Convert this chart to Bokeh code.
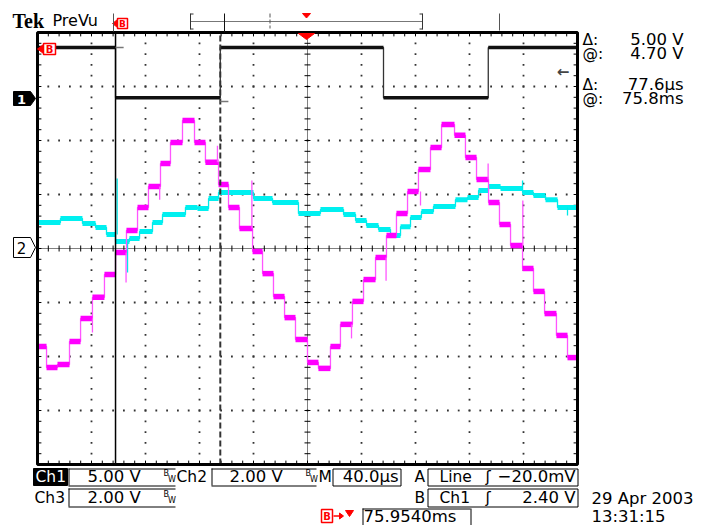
import numpy as np
from bokeh.plotting import figure
from bokeh.models import Range1d, Label
from bokeh.embed import file_html
from bokeh.resources import INLINE

TIME_PER_DIV_US = 40.0
CH1_V_PER_DIV = 5.0
CH2_V_PER_DIV = 2.0
CH3_V_PER_DIV = 2.0
CH1_OFFSET_DIV = 2.78
CH2_OFFSET_DIV = 0.0
CH3_OFFSET_DIV = 0.0

# Ch1: square wave (black)
ch1_edges_us = [-200.0, -142.2, -64.6, 56.3, 133.9, 200.0]
ch1_levels_v = [4.70, 0.05, 4.70, 0.05, 4.70]

# Ch2: slowly varying (cyan)
ch2_edges_us = [-200.0, -183.0, -166.7, -157.0, -148.9, -142.2, -131.9, -124.4, -114.8,
                -107.4, -90.4, -81.5, -73.3, -65.9, -40.0, -25.9, -6.7, 9.6, 26.7, 35.6,
                43.7, 52.6, 61.5, 68.9, 76.3, 84.4, 93.3, 109.6, 118.5, 126.7, 134.1,
                143.0, 159.3, 167.4, 176.3, 185.2, 200.0]
ch2_levels_v = [0.96, 1.11, 0.93, 0.78, 0.52, 0.26, 0.37, 0.63, 0.96, 1.26, 1.52, 1.48,
                1.85, 2.07, 1.85, 1.70, 1.30, 1.44, 1.26, 1.04, 0.85, 0.70, 0.48, 0.81,
                1.15, 1.37, 1.56, 1.81, 1.89, 2.15, 2.30, 2.22, 2.07, 1.96, 1.81, 1.52]
ch2_spike_us = [-200.0, -141.0, -133.3, 159.3, 192.6]
ch2_spike_v = [1.48, 2.59, -0.89, 2.52, 1.22]

# Ch3: staircase sine (magenta)
ch3_edges_us = [-200.0, -193.3, -185.2, -176.3, -168.1, -159.3, -150.4, -142.2, -134.1,
                -125.9, -117.8, -108.9, -101.5, -92.6, -83.7, -75.6, -65.9, -58.5, -50.4,
                -40.7, -33.3, -25.2, -17.0, -8.9, 0.0, 8.1, 17.0, 24.4, 33.3, 41.5, 50.4,
                58.5, 65.9, 74.1, 82.2, 91.1, 99.3, 108.9, 117.0, 125.2, 134.1, 142.2,
                150.4, 159.3, 167.4, 175.6, 184.4, 192.6, 200.0]
ch3_levels_v = [-3.63, -4.41, -4.30, -3.44, -2.59, -1.81, -0.96, -0.15, 0.67, 1.52, 2.30,
                3.15, 3.93, 4.74, 3.93, 3.19, 2.37, 1.52, 0.74, -0.11, -0.93, -1.78, -2.56,
                -3.37, -4.22, -4.44, -3.63, -2.81, -1.96, -1.15, -0.33, 0.48, 1.30, 2.11,
                2.93, 3.74, 4.59, 4.19, 3.37, 2.56, 1.70, 0.89, 0.11, -0.74, -1.59, -2.41,
                -3.22, -4.04]
ch3_spike_us = [-159.3, -134.4, -109.5, -66.7, -41.2, 32.6, 58.2, 83.7, 133.8, 159.5]
ch3_spike_v = [-3.11, -1.26, 1.81, 3.81, 2.52, -3.33, -1.19, 1.59, 3.15, 1.78]

cursor_t_us = [-142.2, -64.6]
cursor_level_v = [4.70, -0.30]
trigger_b_level_v = 2.40

# ---------------- figure ----------------
W, H = 701, 525
GX0, GX1, GY0, GY1 = 37, 577, 32, 464          # graticule in page pixels
T_HALF = 5 * TIME_PER_DIV_US
PX_PER_US = (GX1 - GX0) / (2 * T_HALF)
PX_PER_DIV = (GY1 - GY0) / 8.0
x_start = -T_HALF - GX0 / PX_PER_US
x_end = T_HALF + (W - GX1) / PX_PER_US
y_end = 4 + GY0 / PX_PER_DIV
y_start = -4 - (H - GY1) / PX_PER_DIV

p = figure(width=W, height=H, output_backend="svg", toolbar_location=None,
           x_range=Range1d(x_start, x_end), y_range=Range1d(y_start, y_end),
           x_axis_location=None, y_axis_location=None,
           min_border_left=0, min_border_right=0, min_border_top=0, min_border_bottom=0)
p.grid.visible = False
p.outline_line_color = None
p.background_fill_color = "white"
p.border_fill_color = "white"


def dx(px):
    return x_start + px / PX_PER_US


def dy(py):
    return y_end - py / PX_PER_DIV


def lab(px, py, text, size=15.5, color="black", align="left", baseline="alphabetic",
        font="DejaVu Sans", style="normal"):
    # py is the wanted alphabetic baseline (or the centre when baseline == "middle")
    yc = py - 0.35 * size if baseline == "alphabetic" else py
    p.add_layout(Label(x=px, y=H - yc, x_units="screen", y_units="screen", text=text,
                       text_font=font, text_font_size=f"{size}px", text_color=color,
                       text_align=align, text_baseline="middle", text_font_style=style))


NUM = 16.5   # size of the numeric readouts


def box(x0, y0, x1, y1, fill=None, line="black", lw=1):
    p.quad(left=[dx(x0)], right=[dx(x1)], top=[dy(y0)], bottom=[dy(y1)],
           fill_color=fill, fill_alpha=1 if fill else 0,
           line_color=line, line_width=lw)


def hline(x0, x1, y, color="black", w=1):
    p.segment(x0=[dx(x0)], x1=[dx(x1)], y0=[dy(y)], y1=[dy(y)], line_color=color,
              line_width=w)


def vline(x, y0, y1, color="black", w=1, dash="solid"):
    p.segment(x0=[dx(x)], x1=[dx(x)], y0=[dy(y0)], y1=[dy(y1)], line_color=color,
              line_width=w, line_dash=dash)


def poly(xs, ys, fill, line=None):
    p.patch([dx(v) for v in xs], [dy(v) for v in ys], fill_color=fill,
            line_color=line or fill, line_width=1)


# ---------------- graticule ----------------
div_t = TIME_PER_DIV_US
gx, gy = [], []
for k in [-4, -3, -2, -1, 1, 2, 3, 4]:
    ys = np.arange(-4, 4.001, 0.2)
    gx += [k * div_t] * len(ys)
    gy += list(ys)
for k in [-3, -2, -1, 1, 2, 3]:
    xs = np.arange(-T_HALF, T_HALF + 0.01, div_t / 5)
    gx += list(xs)
    gy += [k] * len(xs)
p.scatter(gx, gy, marker="square", size=1.8, color="#333333", line_color=None)

p.segment(x0=[-T_HALF], x1=[T_HALF], y0=[0], y1=[0], line_color="black", line_width=1,
          line_dash="1 1")
p.segment(x0=[0], x1=[0], y0=[-4], y1=[4], line_color="black", line_width=1,
          line_dash="1 1")

tx = np.arange(-T_HALF, T_HALF + 0.01, div_t / 5)
ty = np.arange(-4, 4.001, 0.2)
tick_t = 3 / PX_PER_US
tick_d = 3 / PX_PER_DIV
p.segment(x0=tx, x1=tx, y0=-tick_d, y1=tick_d, line_color="black", line_width=1)
p.segment(x0=-tick_t, x1=tick_t, y0=ty, y1=ty, line_color="black", line_width=1)
p.segment(x0=tx, x1=tx, y0=4, y1=4 - 1.3 * tick_d, line_color="black", line_width=1)
p.segment(x0=tx, x1=tx, y0=-4, y1=-4 + 1.3 * tick_d, line_color="black", line_width=1)
p.segment(x0=-T_HALF, x1=-T_HALF + 1.3 * tick_t, y0=ty, y1=ty, line_color="black", line_width=1)
p.segment(x0=T_HALF, x1=T_HALF - 1.3 * tick_t, y0=ty, y1=ty, line_color="black", line_width=1)


# ---------------- traces ----------------
def draw_trace(edges, levels, vdiv, off, color, edge_color, band, spikes_t=None, spikes_v=None):
    e = np.asarray(edges)
    lv = np.asarray(levels) / vdiv + off
    sxs = np.repeat(e, 2)[1:-1]
    sys_ = np.repeat(lv, 2)
    p.line(sxs, sys_, line_color=edge_color, line_width=1.3)
    p.segment(x0=e[:-1], x1=e[1:], y0=lv, y1=lv, line_color=color, line_width=band,
              line_cap="butt")
    if spikes_t:
        for t, v in zip(spikes_t, spikes_v):
            i = int(np.argmin(np.abs(e - t)))
            a = lv[max(i - 1, 0)]
            b = lv[min(i, len(lv) - 1)]
            vd = v / vdiv + off
            start = a if abs(a - vd) < abs(b - vd) else b
            p.segment(x0=[t], x1=[t], y0=[start], y1=[vd], line_color=edge_color,
                      line_width=1.3)


draw_trace(ch2_edges_us, ch2_levels_v, CH2_V_PER_DIV, CH2_OFFSET_DIV, "#00F0F0", "#00E8E8", 5,
           ch2_spike_us, ch2_spike_v)
draw_trace(ch3_edges_us, ch3_levels_v, CH3_V_PER_DIV, CH3_OFFSET_DIV, "#FF00FF", "#FF55FF", 5.5,
           ch3_spike_us, ch3_spike_v)
draw_trace(ch1_edges_us, ch1_levels_v, CH1_V_PER_DIV, CH1_OFFSET_DIV, "#111111", "#333333", 3.5)

# cursors
p.segment(x0=[cursor_t_us[0]], x1=[cursor_t_us[0]], y0=[-4], y1=[4], line_color="black",
          line_width=1.5)
p.segment(x0=[cursor_t_us[1]], x1=[cursor_t_us[1]], y0=[-4], y1=[4], line_color="#333333",
          line_width=2, line_dash="6 3")
lv_c = [v / CH1_V_PER_DIV + CH1_OFFSET_DIV for v in cursor_level_v]
p.segment(x0=cursor_t_us, x1=[t + 6 for t in cursor_t_us], y0=lv_c, y1=lv_c,
          line_color="#777777", line_width=1.5)
p.add_layout(Label(x=T_HALF - 6, y=trigger_b_level_v / CH1_V_PER_DIV + CH1_OFFSET_DIV,
                   text="←", text_font="DejaVu Sans", text_font_size="15px",
                   text_font_style="bold", text_align="right", text_baseline="middle"))

# graticule border
p.quad(left=[-T_HALF], right=[T_HALF], bottom=[-4], top=[4], fill_alpha=0,
       line_color="black", line_width=3)

# ---------------- screen furniture ----------------
# top header
lab(12, 27, "Tek", size=20, font="Liberation Serif", style="bold")
lab(52, 26, "PreVu", size=16)
poly([112, 117, 117], [23, 19, 27], "#ff0000")
box(117, 18, 127, 28, fill="white", line="#ff0000", lw=1.5)
lab(122, 23.5, "B", size=9, color="#ff0000", align="center", baseline="middle", style="bold")
vline(113, 13, 31, color="#555555")

hline(190, 422, 21, color="#777777")
vline(190, 13, 29, color="#333333")
hline(190, 193, 13.5, color="#333333")
hline(190, 193, 28.5, color="#333333")
vline(422, 13, 29, color="#333333")
hline(419, 422, 13.5, color="#333333")
hline(419, 422, 28.5, color="#333333")
vline(224, 13, 32, color="#111111")
vline(269.5, 13, 28, color="#555555", dash="4 2")
vline(499, 13, 30, color="#555555")
poly([302, 310, 306], [13, 13, 17.5], "#ff0000")
poly([298, 314, 306], [33, 33, 39], "#ff0000")

# channel markers at left
poly([13, 30, 35, 30, 13], [91, 91, 98, 105, 105], "black")
lab(21, 98.5, "1", size=13, color="white", align="center", baseline="middle", style="bold")
poly([13, 30, 35, 30, 13], [237, 237, 247, 257, 257], "white", line="black")
lab(21, 247.5, "2", size=15, align="center", baseline="middle")

# red B marker inside the frame
poly([37, 43, 43], [48.5, 44, 53], "#ff0000")
box(43, 43, 55, 54, fill="white", line="#ff0000", lw=1.5)
lab(49, 48.5, "B", size=10, color="#ff0000", align="center", baseline="middle", style="bold")

# cursor readouts at right
lab(582, 45, "Δ:", size=15.5)
lab(683, 45, "5.00 V", size=NUM, align="right")
lab(582, 59, "@:", size=15.5)
lab(683, 59, "4.70 V", size=NUM, align="right")
lab(582, 90, "Δ:", size=15.5)
lab(683, 90, "77.6µs", size=NUM, align="right")
lab(582, 104, "@:", size=15.5)
lab(683, 104, "75.8ms", size=NUM, align="right")


# bottom status rows
def bw(x, yb):
    lab(x, yb - 6, "B", size=8)
    lab(x + 4.5, yb, "W", size=8)


box(33, 468, 67, 485, fill="black", line="black")
lab(35, 482, "Ch1", size=15.5, color="white")
vline(68.5, 468, 485)
hline(68, 175, 468.5)
hline(68, 175, 485.5)
lab(87, 482, "5.00 V", size=NUM)
bw(163, 482)
lab(176, 482, "Ch2", size=15.5)
vline(211.5, 468, 485)
hline(211, 316, 468.5)
hline(211, 316, 485.5)
lab(229, 482, "2.00 V", size=NUM)
bw(305, 482)
lab(318, 482, "M", size=15.5)
box(332.5, 468.5, 400.5, 485.5)
lab(398, 482, "40.0µs", size=NUM, align="right")
lab(414, 482, "A", size=15.5)
box(427.5, 468.5, 577.5, 485.5)
lab(439, 482, "Line", size=15.5)
lab(485, 482, "ʃ", size=15.5)
lab(575, 482, "−20.0mV", size=NUM, align="right")

lab(34, 503, "Ch3", size=15.5)
vline(68.5, 488, 506)
hline(68, 175, 488.5)
hline(68, 175, 506.5)
lab(87, 503, "2.00 V", size=NUM)
bw(163, 503)
lab(414, 503, "B", size=15.5)
box(427.5, 488.5, 577.5, 506.5)
lab(439, 503, "Ch1", size=15.5)
lab(485, 503, "ʃ", size=15.5)
lab(575, 503, "2.40 V", size=NUM, align="right")

box(321, 509, 332, 522, fill="white", line="#ff0000", lw=1.5)
lab(326.5, 515.5, "B", size=10, color="#ff0000", align="center", baseline="middle", style="bold")
hline(333, 342, 515.5, color="#ff0000", w=1.5)
poly([339, 343, 339], [512.5, 515.5, 518.5], "#ff0000")
poly([345, 353, 349], [510, 510, 516], "#ff0000")
vline(362.5, 508, 525)
hline(362, 470, 508.5)
vline(470.5, 508, 525)
lab(363, 522, "75.9540ms", size=NUM)

lab(591, 504, "29 Apr 2003", size=NUM)
lab(591, 522, "13:31:15", size=NUM)

open("out.html", "w").write(file_html(p, INLINE))
